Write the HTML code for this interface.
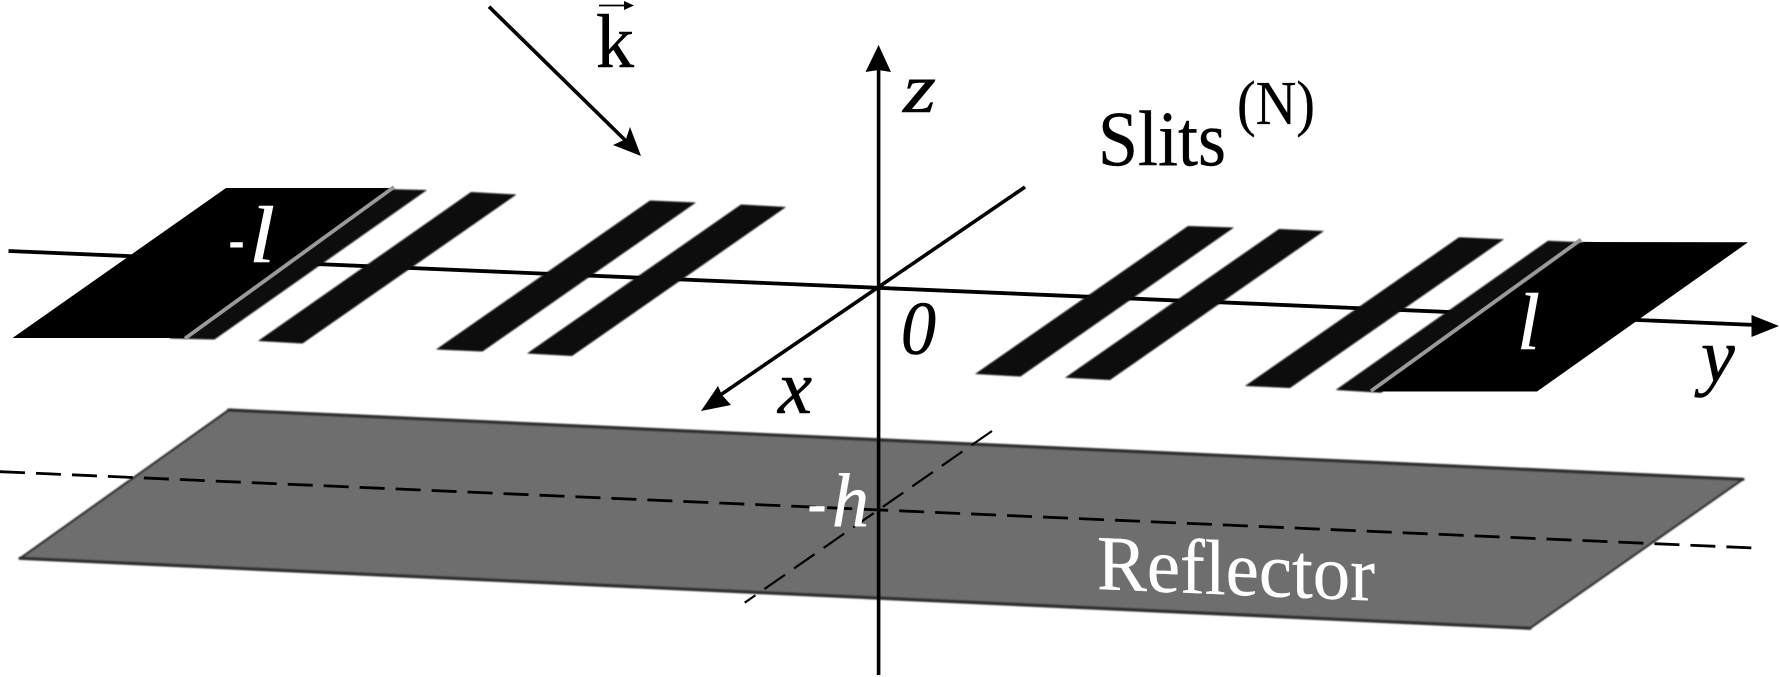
<!DOCTYPE html>
<html>
<head>
<meta charset="utf-8">
<style>
html,body{margin:0;padding:0;background:#fff;width:1780px;height:677px;overflow:hidden}
svg{display:block}
text{font-family:"Liberation Serif",serif}
.i{font-style:italic;font-size:76px;stroke-width:.6}
.k{fill:#000;stroke:#000}
.w{fill:#fff;stroke:#fff}
</style>
</head>
<body>
<svg width="1780" height="677" viewBox="0 0 1780 677" xmlns="http://www.w3.org/2000/svg">
<defs>
<filter id="b" x="-5%" y="-5%" width="110%" height="110%"><feGaussianBlur stdDeviation="0.7"/></filter>
</defs>
<rect width="1780" height="677" fill="#fff"/>

<!-- Reflector -->
<polygon points="228.7,410 1743,479.3 1530,628.3 20,558.3" fill="#6e6e6e"/>
<g stroke="#2e2e2e" filter="url(#b)" fill="none" stroke-linecap="round">
<line x1="228.7" y1="410" x2="1743" y2="479.3" stroke-width="3.2"/>
<line x1="20" y1="558.3" x2="1530" y2="628.3" stroke-width="3.2"/>
<line x1="228.7" y1="410" x2="20" y2="558.3" stroke-width="2"/>
<line x1="1743" y1="479.3" x2="1530" y2="628.3" stroke-width="2"/>
</g>

<!-- dashed axes at -h -->
<line x1="0" y1="471.7" x2="1761" y2="548.3" stroke="#000" stroke-width="2.8" stroke-dasharray="25 11"/>
<line x1="992" y1="431" x2="744.7" y2="602.7" stroke="#000" stroke-width="2.2" stroke-dasharray="25 11"/>

<!-- y axis -->
<line x1="8.5" y1="251" x2="1756" y2="325" stroke="#000" stroke-width="3.8"/>
<polygon points="1779,326 1751.5,315 1751.5,337" fill="#000"/>

<!-- x axis -->
<line x1="1025" y1="187" x2="716" y2="398" stroke="#000" stroke-width="3.6"/>
<polygon points="701,411 718,386 722,395 731,405" fill="#000"/>

<!-- z axis -->
<line x1="878.6" y1="68" x2="878.6" y2="675" stroke="#000" stroke-width="3.6"/>
<polygon points="878.6,45 865.5,72 878.6,70 891,72" fill="#000"/>

<!-- k arrow -->
<line x1="489" y1="6.7" x2="628" y2="143" stroke="#000" stroke-width="3.6"/>
<polygon points="641,156 630,127 626,139 613,145" fill="#000"/>

<!-- slits -->
<g fill="#0a0a0a" filter="url(#b)">
<polygon points="381,189 427,190 214.5,339.5 169,338.5"/>
<polygon points="471,192 516.5,194.5 302.5,343.5 258,341"/>
<polygon points="650,200.5 696,202.5 482.5,351.5 436,349.5"/>
<polygon points="741,204.5 786,207 572,356 527,353.5"/>
<polygon points="1188,226 1234,227.5 1020.5,376.5 975,374"/>
<polygon points="1279,229 1324,231 1110,380 1065,377.7"/>
<polygon points="1459,237.3 1504,239.3 1290,388 1245,386"/>
<polygon points="1548,240.7 1594,242.7 1381,392.7 1335.6,390"/>
</g>

<!-- plates -->
<polygon points="226,188 392,188 185,338 12.5,338" fill="#000"/>
<polygon points="1583,242 1748,242.3 1537,391.5 1371,391.5" fill="#000"/>
<line x1="394" y1="187" x2="185" y2="338.5" stroke="#9a9a9a" stroke-width="3.8"/>
<line x1="1581" y1="239.5" x2="1371" y2="391" stroke="#9a9a9a" stroke-width="3.8"/>

<!-- k vector -->
<line x1="599" y1="5.5" x2="628" y2="5.5" stroke="#000" stroke-width="1.8"/>
<polygon points="634,5.5 624,1 624,10" fill="#000"/>
<text x="596" y="67" font-size="76" class="k" stroke-width=".5" textLength="38" lengthAdjust="spacingAndGlyphs">k</text>

<!-- labels -->
<text class="i k" x="903" y="112" font-size="70" style="font-size:70px" textLength="33" lengthAdjust="spacingAndGlyphs">z</text>
<text x="1098" y="165" font-size="78" class="k" stroke-width=".4" textLength="128" lengthAdjust="spacingAndGlyphs">Slits</text>
<text x="1237" y="124" font-size="62" class="k" stroke-width=".3" textLength="78" lengthAdjust="spacingAndGlyphs">(N)</text>

<text x="229" y="258" font-size="56" class="w" textLength="15" lengthAdjust="spacingAndGlyphs" font-style="italic">-</text>
<text class="i w" x="249" y="262" style="font-size:80px" textLength="26" lengthAdjust="spacingAndGlyphs">l</text>
<text class="i w" x="1517" y="349" style="font-size:80px" textLength="23" lengthAdjust="spacingAndGlyphs">l</text>
<text class="i k" x="901" y="354" textLength="35" lengthAdjust="spacingAndGlyphs">0</text>
<text class="i k" x="1701" y="381">y</text>
<text class="i k" x="778" y="413" textLength="34" lengthAdjust="spacingAndGlyphs">x</text>
<text x="808" y="522" font-size="56" class="w" textLength="18" lengthAdjust="spacingAndGlyphs" font-style="italic">-</text>
<text class="i w" x="832" y="526" textLength="37" lengthAdjust="spacingAndGlyphs">h</text>
<text x="0" y="0" font-size="78" fill="#fff" stroke="#fff" stroke-width=".3" textLength="278" lengthAdjust="spacingAndGlyphs" transform="translate(1097,589) skewY(2.4)">Reflector</text>
</svg>
</body>
</html>
